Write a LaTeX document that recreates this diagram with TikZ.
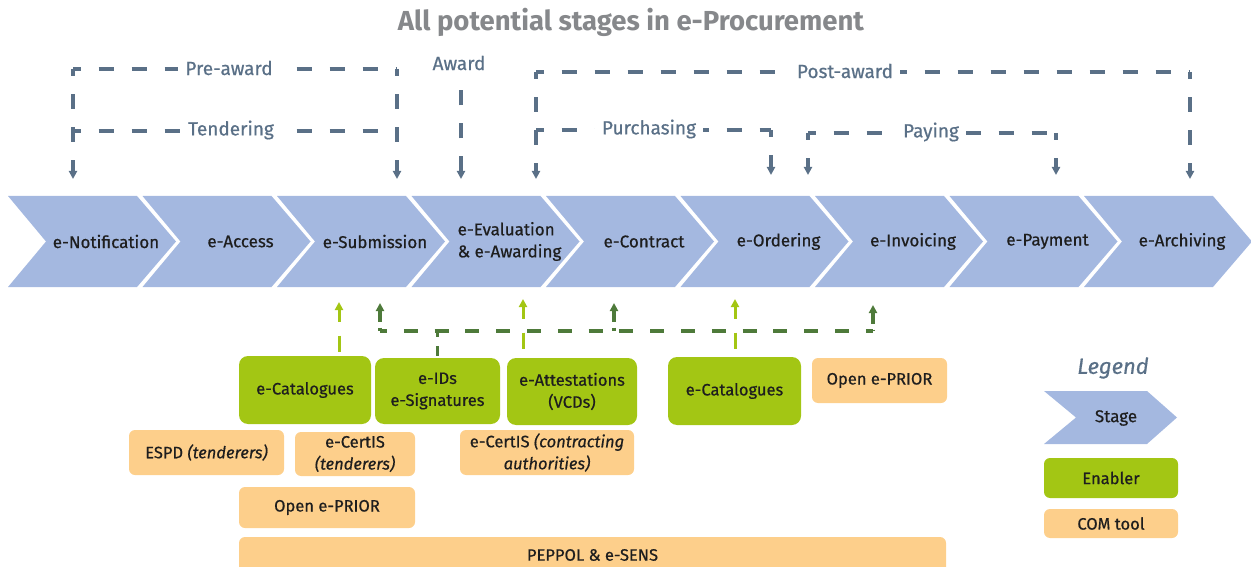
\documentclass[tikz,border=0pt]{standalone}
\usepackage{fontspec}
\setmainfont{Fira Sans}[FakeBold=0.6]
\newfontfamily\titlefont{Fira Sans}
\usetikzlibrary{arrows.meta,positioning}

\definecolor{stageblue}{HTML}{A4B8E0}
\definecolor{enablergreen}{HTML}{A3C614}
\definecolor{comorange}{HTML}{FDCF8B}
\definecolor{phaseslate}{HTML}{5A7087}
\definecolor{linkgreen}{HTML}{4E7A3A}
\definecolor{titlegray}{HTML}{86888B}
\definecolor{textdark}{HTML}{1E1E1E}

\begin{document}
\begin{tikzpicture}[x=1pt,y=-1pt,>={Triangle[width=8pt,length=8pt]}]
        \tikzset{
          phase/.style={draw=phaseslate, line width=3.5pt, dash pattern=on 15pt off 18pt, dash phase=7.5pt},
          phaselabel/.style={fill=white, text=phaseslate, inner xsep=7pt, inner ysep=3pt, font=\fontsize{19}{22}\selectfont},
          stagelabel/.style={text=textdark, align=left, inner sep=0pt, font=\fontsize{17}{22}\selectfont},
          enabler/.style={fill=enablergreen, rounded corners=9pt, align=center, text=textdark, inner sep=0pt, font=\fontsize{16.5}{22}\selectfont},
          comtool/.style={fill=comorange, rounded corners=6pt, align=center, text=textdark, inner sep=0pt, font=\fontsize{16.5}{22}\selectfont},
          uplink/.style={draw=enablergreen, line width=3pt, dash pattern=on 12pt off 14pt on 16pt off 20pt},
          netlink/.style={draw=linkgreen, line width=3.3pt, dash pattern=on 14pt off 16.8pt, dash phase=7pt},
          netup/.style={draw=linkgreen, line width=3.3pt, dash pattern=on 11pt off 6pt}
        }
        \useasboundingbox (0,0) rectangle (1251,567);
        \node[text=titlegray, font=\fontsize{27.5}{32}\titlefont\bfseries] (title) at (631,22) {All potential stages in e-Procurement};
        \foreach \i/\id/\txt in {0/notif/e-Notification, 1/access/e-Access, 2/submis/e-Submission,
            3/evalaw/{e-Evaluation\\\& e-Awarding}, 4/contract/e-Contract, 5/order/e-Ordering,
            6/invoice/e-Invoicing, 7/payment/e-Payment, 8/archive/e-Archiving} {
          \fill[stageblue] ({8+134.5*\i},196) -- ++(129,0) -- ++(39,45.5) -- ++(-39,45.5) -- ++(-129,0) -- ++(38,-45.5) -- cycle;
          \node[stagelabel] (\id) at ({8+134.5*\i+98},241.5) {\txt};
        }
        \coordinate (preA) at (73,179);
        \coordinate (preTL) at (73,69);
        \coordinate (preTR) at (397,69);
        \coordinate (preB) at (397,179);
        \coordinate (tenL) at (73,131);
        \coordinate (tenR) at (397,131);
        \coordinate (awdT) at (461,88);
        \coordinate (awdA) at (461,179);
        \coordinate (postA) at (536,179);
        \coordinate (postTL) at (536,72);
        \coordinate (postTR) at (1190,72);
        \coordinate (postB) at (1190,179);
        \coordinate (purL) at (536,130);
        \coordinate (purR) at (771,130);
        \coordinate (purA) at (771,175);
        \coordinate (payA) at (808,175);
        \coordinate (payL) at (808,133);
        \coordinate (payR) at (1056,133);
        \coordinate (payB) at (1056,175);
        \draw[phase,->] (preTL) -- (preA);
        \draw[phase] (preTL) -- (preTR);
        \draw[phase,->] (preTR) -- (preB);
        \draw[phase] (tenL) -- (tenR);
        \draw[phase,<-,dash phase=0pt] (awdA) -- (awdT);
        \draw[phase,->] (postTL) -- (postA);
        \draw[phase] (postTL) -- (postTR);
        \draw[phase,->] (postTR) -- (postB);
        \draw[phase] (purL) -- (purR);
        \draw[phase,->] (purR) -- (purA);
        \draw[phase,->] (payL) -- (payA);
        \draw[phase] (payL) -- (payR);
        \draw[phase,->] (payR) -- (payB);
        \node[phaselabel] (preaward) at (229,68) {Pre-award};
        \node[phaselabel] (tender) at (231,130) {Tendering};
        \node[phaselabel, fill=none] (award) at (459,63) {Award};
        \node[phaselabel] (postaward) at (845,71) {Post-award};
        \node[phaselabel] (purchase) at (649,129) {Purchasing};
        \node[phaselabel] (paying) at (931,132) {Paying};
        \node[enabler, minimum width=132pt, minimum height=68pt] (cat1) at (305,390) {e-Catalogues};
        \node[enabler, minimum width=125pt, minimum height=66pt] (ids) at (437.5,391) {e-IDs\\e-Signatures};
        \node[enabler, minimum width=130pt, minimum height=67pt] (attest) at (572,391.5) {e-Attestations\\(VCDs)};
        \node[enabler, minimum width=133pt, minimum height=68pt] (cat2) at (734.5,391) {e-Catalogues};
        \node[comtool, minimum width=135pt, minimum height=45pt] (prior1) at (879.5,380.5) {Open e-PRIOR};
        \node[comtool, minimum width=155pt, minimum height=45pt] (espd) at (206.5,452.5) {ESPD \textit{(tenderers)}};
        \node[comtool, minimum width=120pt, minimum height=44pt] (certis1) at (355,454) {e-CertIS\\\textit{(tenderers)}};
        \node[comtool, minimum width=174pt, minimum height=45pt] (certis2) at (547,452.5) {e-CertIS \textit{(contracting}\\\textit{authorities)}};
        \node[comtool, minimum width=176pt, minimum height=41pt] (prior2) at (327,507.5) {Open e-PRIOR};
        \node[comtool, minimum width=707pt, minimum height=36pt] (peppol) at (592.5,555) {PEPPOL \& e-SENS};
        \coordinate (netUL) at (380,303);
        \coordinate (netL) at (380,331);
        \coordinate (netM) at (614,331);
        \coordinate (netUM) at (614,303);
        \coordinate (netR) at (873,331);
        \coordinate (netUR) at (873,305);
        \coordinate (upA) at (339,302);
        \coordinate (upB) at (523,299);
        \coordinate (upC) at (735,299);
        \draw[netlink] (netL) -- (netR);
        \draw[netup,<-] (netUL) -- (netL);
        \draw[netup,<-] (netUM) -- (netM);
        \draw[netup,<-] (netUR) -- (netR);
        \draw[netlink, dash pattern=on 6pt off 9pt on 10pt off 20pt, dash phase=0pt] (ids.north |- netL) -- (ids.north);
        \draw[uplink,<-] (upA) -- (cat1.north -| upA);
        \draw[uplink,<-] (upB) -- (attest.north -| upB);
        \draw[uplink,<-] (upC) -- (cat2.north -| upC);
        \node[text=phaseslate, font=\fontsize{22}{26}\selectfont\itshape] (legend) at (1113,368) {Legend};
        \fill[stageblue] (1044,391) -- (1147,391) -- (1177,417.5) -- (1147,444) -- (1044,444) -- (1076,417.5) -- cycle;
        \node[stagelabel] (lstage) at (1116,418) {Stage};
        \node[enabler, rounded corners=6pt, minimum width=134pt, minimum height=40pt] (lenabler) at (1111,478) {Enabler};
        \node[comtool, minimum width=134pt, minimum height=29pt] (lcom) at (1111,523.5) {COM tool};
    \end{tikzpicture}
\end{document}
